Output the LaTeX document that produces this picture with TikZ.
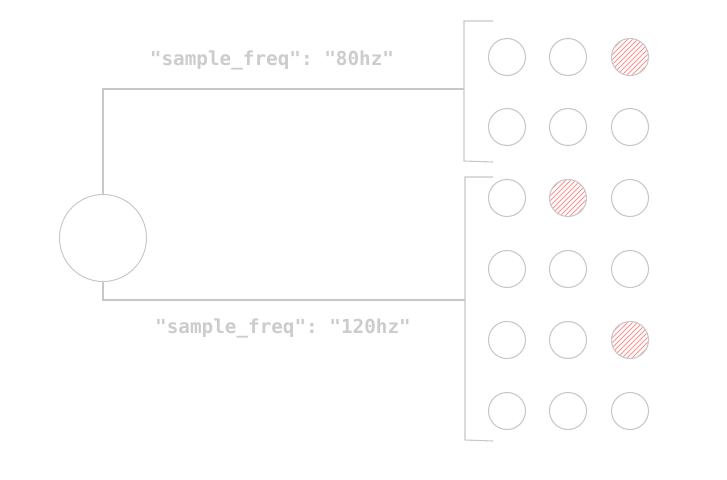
\documentclass[tikz,border=0pt]{standalone}
\usepackage{fontspec}
\setmonofont{DejaVu Sans Mono}
\definecolor{stroke}{HTML}{C8C8C8}
\definecolor{txt}{HTML}{CCCCCC}
\definecolor{hatch}{HTML}{FF9090}
\tikzset{
  dot/.style={circle, draw=stroke, line width=1.1pt, minimum size=37pt, inner sep=0pt},
  big/.style={circle, draw=stroke, line width=1pt, minimum size=87pt, inner sep=0pt},
  wire/.style={draw=stroke, line width=1.1pt},
  lbl/.style={text=txt, font=\ttfamily\bfseries\fontsize{19.3}{22}\selectfont, inner sep=0pt},
  hatchline/.style={draw=hatch, line width=0.8pt}
}
\begin{document}
\begin{tikzpicture}[x=1pt,y=-1pt]
\useasboundingbox (0,0) rectangle (727,479);
% big circle
\node[big] (src) at (103,238) {};
% brackets
\coordinate (b1t) at (464,21);
\coordinate (b1b) at (464,161);
\coordinate (b1tr) at (493,21);
\coordinate (b1br) at (493,162);
\coordinate (b1m) at (464,89);
\coordinate (b2t) at (465,177);
\coordinate (b2b) at (465,440);
\coordinate (b2tr) at (493,177);
\coordinate (b2br) at (493,441);
\coordinate (b2m) at (465,300);
\draw[wire] (b1tr) -- (b1t) -- (b1b) -- (b1br);
\draw[wire] (b2tr) -- (b2t) -- (b2b) -- (b2br);
% connectors
\draw[wire] (src.north) |- (b1m);
\draw[wire] (src.south) |- (b2m);
% labels
\node[lbl] (l1) at (272,60) {"sample\_freq": "80hz"};
\node[lbl] (l2) at (283,328) {"sample\_freq": "120hz"};
% hatched fills
\foreach \cx/\cy in {630/57, 568/198, 630/340}{
  \begin{scope}
    \clip (\cx,\cy) circle (18);
    \foreach \k in {-40,-35,...,40}{
      \draw[hatchline] (\cx-20+\k,\cy+20) -- (\cx+20+\k,\cy-20);
    }
  \end{scope}
}
% grid of dots
\foreach \r/\y in {1/57,2/127,3/198,4/269,5/340,6/411}{
  \foreach \c/\x in {1/507,2/568,3/630}{
    \node[dot] (d-\r-\c) at (\x,\y) {};
  }
}
\end{tikzpicture}
\end{document}
